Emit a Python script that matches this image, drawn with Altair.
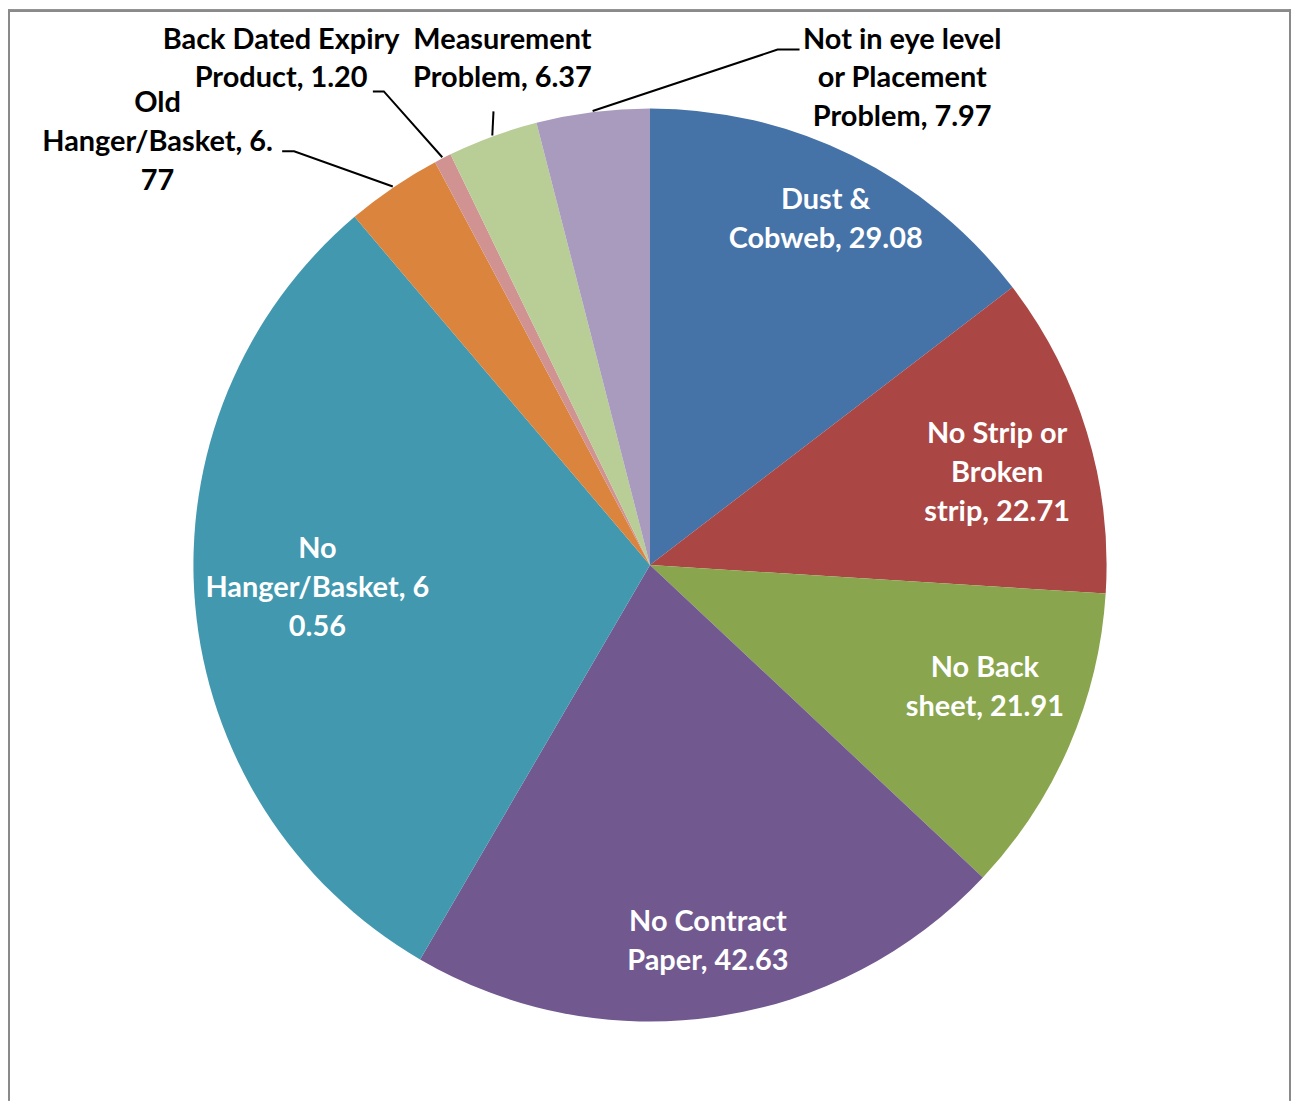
import math
import altair as alt
import pandas as pd

# ---------------- data ----------------
categories = [
    "Dust & Cobweb",
    "No Strip or Broken strip",
    "No Back sheet",
    "No Contract Paper",
    "No Hanger/Basket",
    "Old Hanger/Basket",
    "Back Dated Expiry Product",
    "Measurement Problem",
    "Not in eye level or Placement Problem",
]
values = [29.08, 22.71, 21.91, 42.63, 60.56, 6.77, 1.20, 6.37, 7.97]
label_lines = [
    ["Dust &", "Cobweb, 29.08"],
    ["No Strip or", "Broken", "strip, 22.71"],
    ["No Back", "sheet, 21.91"],
    ["No Contract", "Paper, 42.63"],
    ["No", "Hanger/Basket, 6", "0.56"],
    ["Old", "Hanger/Basket, 6.", "77"],
    ["Back Dated Expiry", "Product, 1.20"],
    ["Measurement", "Problem, 6.37"],
    ["Not in eye level", "or Placement", "Problem, 7.97"],
]
colors = ["#4572A7", "#AA4643", "#89A54E", "#71588F", "#4198AF",
          "#DB843D", "#D09392", "#B9CD96", "#A99BBD"]

# ---------------- layout (pixels, relative to the chart origin) ----------------
W, H = 1288, 1094
CX, CY, R = 644, 557, 458
FONT = "Lato"
FS = 29
LH = 39

# inside labels: radius from centre along the slice's mid angle, plus nudges
inside = {
    0: dict(r=389, dx=4, dy=2),
    1: dict(r=364, dx=0, dy=14),
    2: dict(r=366, dx=0, dy=-22),
    3: dict(r=382, dx=3, dy=0),
    4: dict(r=335, dx=0, dy=-6),
}
# outside labels: block centre, and leader line path after the slice edge
outside = {
    5: dict(cx=150, cy=133, path=[(287, 142), (275, 142)]),
    6: dict(cx=274, cy=49.5, path=[(377, 82), (366, 82)]),
    7: dict(cx=496, cy=49.5, path=[(487, 102)]),
    8: dict(cx=897, cy=69, path=[(772, 40), (794, 40)]),
}

total = sum(values)
mids = []
acc = 0.0
for v in values:
    mids.append((acc + v / 2) / total * 2 * math.pi)
    acc += v

pie_df = pd.DataFrame({"cat": categories, "value": values, "idx": list(range(len(values)))})

text_rows = []
for i, lines in enumerate(label_lines):
    n = len(lines)
    if i in inside:
        p = inside[i]
        bx = CX + p["r"] * math.sin(mids[i]) + p["dx"]
        by = CY - p["r"] * math.cos(mids[i]) + p["dy"]
        color = "white"
    else:
        p = outside[i]
        bx, by = p["cx"], p["cy"]
        color = "black"
    for k, t in enumerate(lines):
        text_rows.append({"x": bx, "y": by + (k - (n - 1) / 2) * LH,
                          "t": t, "c": color})
text_df = pd.DataFrame(text_rows)

lead_rows = []
for i, p in outside.items():
    sx = CX + (R + 1) * math.sin(mids[i])
    sy = CY - (R + 1) * math.cos(mids[i])
    pts = [(sx, sy)] + p["path"]
    for k, (x, y) in enumerate(pts):
        lead_rows.append({"cat": categories[i], "k": k, "x": x, "y": y})
lead_df = pd.DataFrame(lead_rows)

xs = alt.Scale(domain=[0, W], nice=False, zero=False)
ys = alt.Scale(domain=[0, H], nice=False, zero=False, reverse=True)

pie = alt.Chart(pie_df).mark_arc(outerRadius=R).encode(
    theta=alt.Theta("value:Q", stack=True),
    order=alt.Order("idx:Q"),
    color=alt.Color("cat:N", scale=alt.Scale(domain=categories, range=colors), legend=None),
    x=alt.value(CX),
    y=alt.value(CY),
)

leaders = alt.Chart(lead_df).mark_line(color="black", strokeWidth=2).encode(
    x=alt.X("x:Q", scale=xs, axis=None),
    y=alt.Y("y:Q", scale=ys, axis=None),
    detail="cat:N",
    order="k:Q",
)

texts = alt.Chart(text_df).mark_text(
    font=FONT, fontSize=FS, fontWeight="bold", align="center", baseline="middle"
).encode(
    x=alt.X("x:Q", scale=xs, axis=None),
    y=alt.Y("y:Q", scale=ys, axis=None),
    text="t:N",
    color=alt.Color("c:N", scale=None),
)

frame_l = alt.Chart(pie_df).mark_rule(color="#8a8a8a", strokeWidth=2).encode(
    x=alt.value(1), y=alt.value(0), y2=alt.value(H))
frame_t = alt.Chart(pie_df).mark_rule(color="#8a8a8a", strokeWidth=2).encode(
    x=alt.value(0), x2=alt.value(1287), y=alt.value(1))
frame_r = alt.Chart(pie_df).mark_rule(color="#8a8a8a", strokeWidth=2).encode(
    x=alt.value(1286), y=alt.value(0), y2=alt.value(H))

chart = alt.layer(pie, leaders, texts, frame_l, frame_t, frame_r).properties(
    width=W, height=H, autosize=alt.AutoSizeParams(type="none"), padding=0,
    background="white",
).configure_view(stroke=None)

chart.save("out.html", embed_options={"renderer": "svg", "actions": False})
